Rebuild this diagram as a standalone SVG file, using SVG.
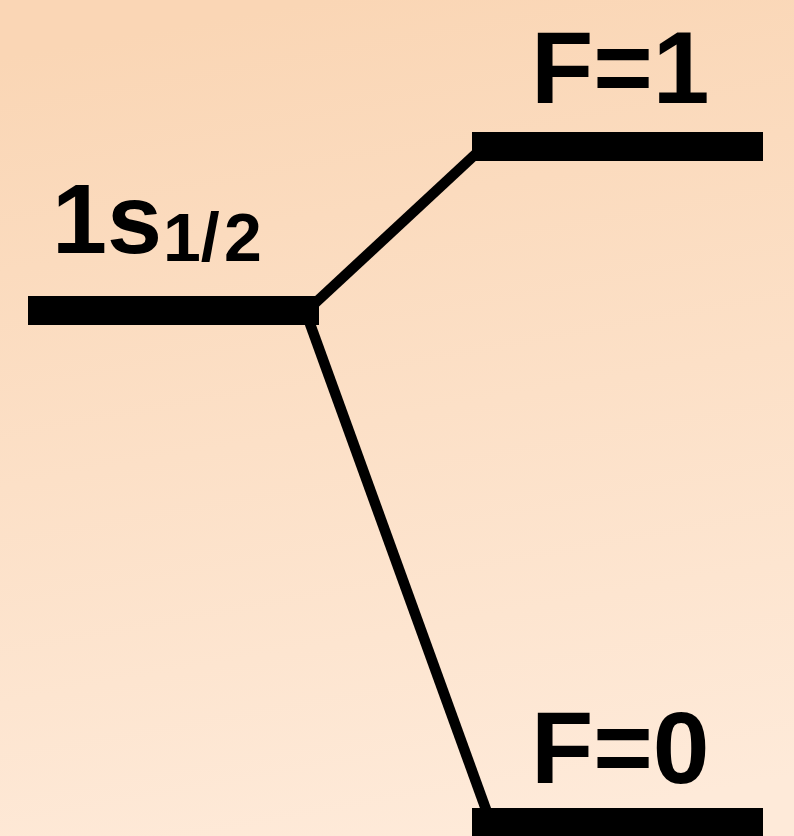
<svg xmlns="http://www.w3.org/2000/svg" width="794" height="836" viewBox="0 0 794 836">
  <defs>
    <linearGradient id="bg" gradientUnits="userSpaceOnUse" x1="320" y1="0" x2="470" y2="836">
      <stop offset="0" stop-color="#FAD6B5"/>
      <stop offset="1" stop-color="#FEEAD9"/>
    </linearGradient>
    <style>
      .lvl { fill: #000; }
      .conn { stroke: #000; stroke-width: 10.5; fill: none; }
      .lbl { font-family: "Liberation Sans", Arial, Helvetica, sans-serif; font-weight: bold; fill: #000; }
    </style>
  </defs>
  <rect x="0" y="0" width="794" height="836" fill="url(#bg)"/>
  <g id="connectors">
    <line class="conn" x1="312" y1="306" x2="480" y2="150"/>
    <line class="conn" x1="305" y1="310" x2="488" y2="815"/>
  </g>
  <g id="level-1s">
    <rect class="lvl" x="28" y="296" width="291" height="29"/>
    <text class="lbl" x="52" y="253" font-size="99">1s<tspan font-size="68" x="163" y="261">1/</tspan><tspan font-size="68" x="224" y="261">2</tspan></text>
  </g>
  <g id="level-F1">
    <rect class="lvl" x="472" y="132" width="291" height="29"/>
    <text class="lbl" x="531" y="103" font-size="102">F=1</text>
  </g>
  <g id="level-F0">
    <rect class="lvl" x="472" y="808" width="291" height="29"/>
    <text class="lbl" x="531" y="783" font-size="102">F=0</text>
  </g>
</svg>
